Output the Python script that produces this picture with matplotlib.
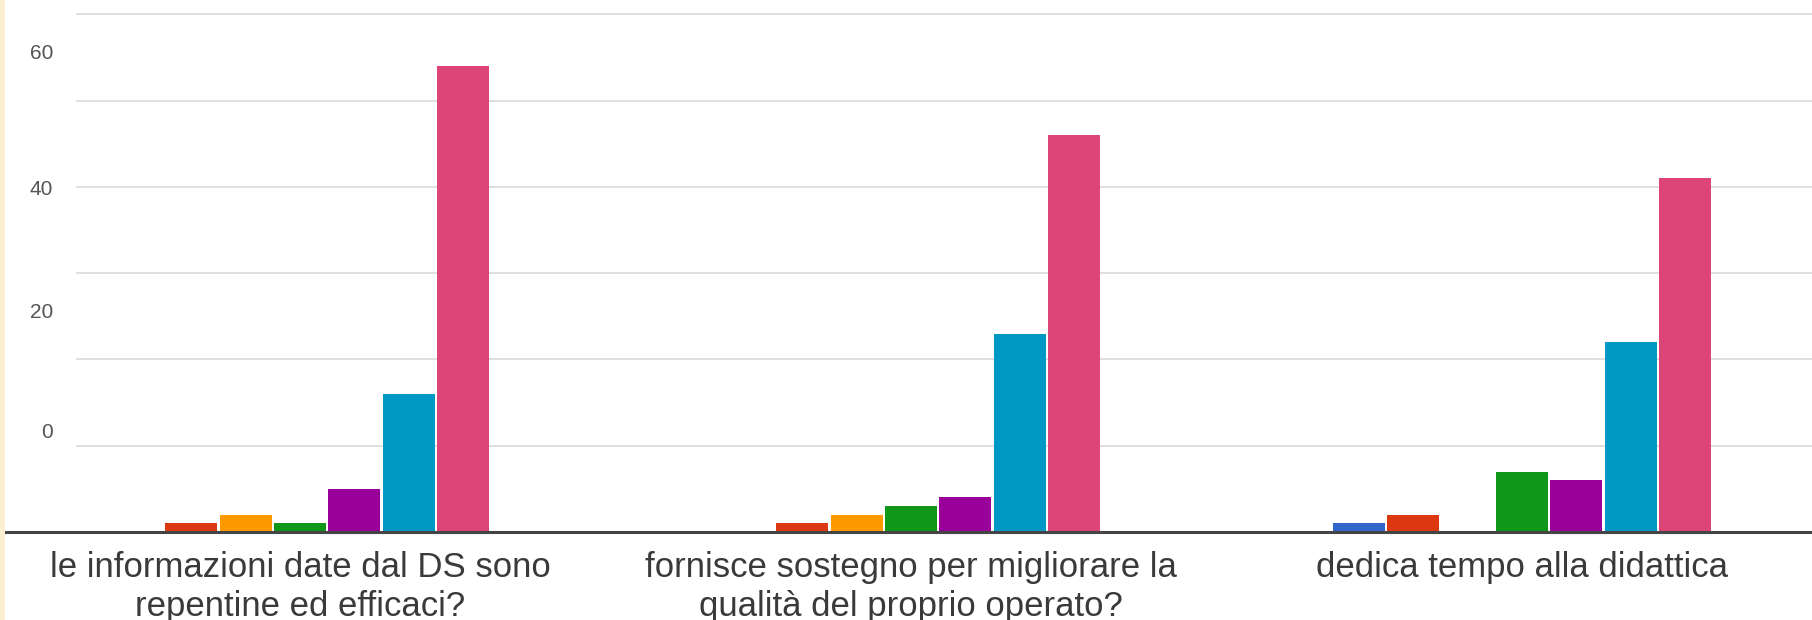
import matplotlib
matplotlib.use("Agg")
import matplotlib.pyplot as plt
import numpy as np

# ---- data ----
categories = [
    "le informazioni date dal DS sono\nrepentine ed efficaci?",
    "fornisce sostegno per migliorare la\nqualità del proprio operato?",
    "dedica tempo alla didattica",
]
series_names = ["1", "2", "3", "4", "5", "6", "7"]
values = {
    "1": [0, 0, 1],
    "2": [1, 1, 2],
    "3": [2, 2, 0],
    "4": [1, 3, 7],
    "5": [5, 4, 6],
    "6": [16, 23, 22],
    "7": [54, 46, 41],
}
colors = ["#3366cc", "#dc3912", "#ff9900", "#109618", "#990099", "#0099c6", "#dd4477"]
# y tick labels as they appear in the (misaligned) screenshot
ytick_labels = ["60", "40", "20", "0"]
ytick_pos = [55.7, 39.9, 25.7, 11.8]
grid_levels = [10, 20, 30, 40, 50, 60]

W, H = 1812, 620
fig = plt.figure(figsize=(W / 100, H / 100), dpi=100)
fig.patch.set_facecolor("white")

# cream strip on the left edge
fig.patches.append(plt.Rectangle((0, 0), 5 / W, 1, transform=fig.transFigure,
                                 facecolor="#fcefd2", edgecolor="none", zorder=0))

ax_left = 76 / W
ax = fig.add_axes([ax_left, 88 / H, 1 - ax_left, 532 / H])
ax.set_facecolor("none")

x = np.arange(len(categories))
pitch = 0.0889
width = 0.0851
for k, name in enumerate(series_names):
    ax.bar(x + (k - 3) * pitch, values[name], width=width, color=colors[k],
           edgecolor="none", zorder=2)

ax.set_xlim(-0.3666, 2.4746)
ax.set_ylim(0, 61.68)

# gridlines
ax.set_yticks(grid_levels, minor=True)
ax.grid(True, which="minor", axis="y", color="#dcdcdc", linewidth=1.3, zorder=1)
ax.grid(False, which="major")

# y labels
ax.set_yticks(ytick_pos)
ax.set_yticklabels(ytick_labels, fontsize=15, color="#555555",
                   fontfamily="Liberation Sans")
ax.tick_params(axis="y", which="both", length=0, pad=16.5)

# x labels
ax.set_xticks(x)
ax.set_xticklabels(categories, fontsize=25, color="#3a3a3a",
                   fontfamily="Liberation Sans", linespacing=1.2, va="top")
ax.tick_params(axis="x", length=0, pad=14)

for s in ax.spines.values():
    s.set_visible(False)

# baseline
ax.axhline(0, xmin=(5 - 76) / (W - 76), xmax=1, color="#444444", linewidth=2.2,
           clip_on=False, zorder=3)

fig.savefig("out.png", dpi=100, facecolor=fig.get_facecolor())
